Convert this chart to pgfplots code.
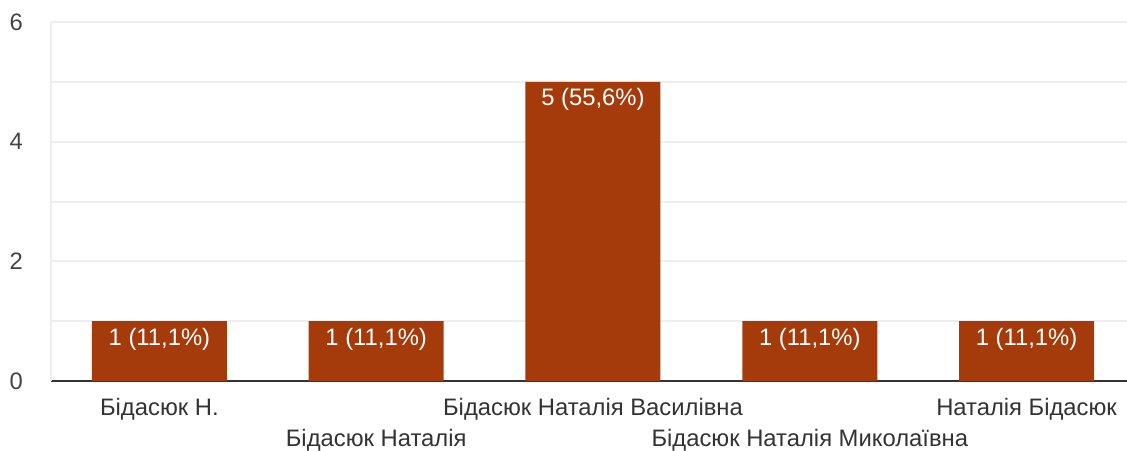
\documentclass[border=0pt]{standalone}
\usepackage{fontspec}
\setmainfont{Liberation Sans}
\usepackage{pgfplots}
\pgfplotsset{compat=1.18}
\definecolor{barc}{HTML}{A53A0A}
\definecolor{gridc}{HTML}{EEEEEE}
\definecolor{txt}{HTML}{333333}
\definecolor{ticktxt}{HTML}{444444}
\begin{document}
\fontsize{23.8}{28}\selectfont
\begin{tikzpicture}
\useasboundingbox (-51pt,-69pt) rectangle (1076pt,381pt);
\begin{axis}[
  at={(0pt,0pt)}, anchor=south west,
  scale only axis, width=1076pt, height=359pt,
  xmin=-0.5, xmax=4.463, ymin=0, ymax=6,
  ybar, bar width=135pt,
  axis x line=bottom, axis y line=left,
  axis line style={-},
  x axis line style={txt, line width=2.6pt},
  y axis line style={gridc, line width=2pt},
  ytick={0,2,4,6}, minor ytick={1,3,5},
  ymajorgrids, yminorgrids,
  major grid style={gridc, line width=2pt},
  minor grid style={gridc, line width=2pt},
  major tick length=0pt, minor tick length=0pt,
  /pgf/number format/assume math mode=true,
  tick label style={font=\fontsize{23.8}{28}\selectfont},
  yticklabel style={ticktxt, xshift=-20pt},
  xticklabel style={txt, yshift=-9pt},
  xtick={0,2,4},
  xticklabels={Бідасюк Н., Бідасюк Наталія Василівна, Наталія Бідасюк},
  extra x ticks={1,3},
  extra x tick labels={Бідасюк Наталія, Бідасюк Наталія Миколаївна},
  extra x tick style={xticklabel style={yshift=-31pt}, grid=none},
  clip=false,
]
\addplot[fill=barc, draw=none,
  nodes near coords, point meta=explicit symbolic,
  every node near coord/.append style={white, anchor=center, yshift=-18pt,
    font=\fontsize{23.8}{28}\selectfont}]
  coordinates {
    (0,1) [1 (11,1\%)]
    (1,1) [1 (11,1\%)]
    (2,5) [5 (55,6\%)]
    (3,1) [1 (11,1\%)]
    (4,1) [1 (11,1\%)]
  };
\end{axis}
\end{tikzpicture}
\end{document}
